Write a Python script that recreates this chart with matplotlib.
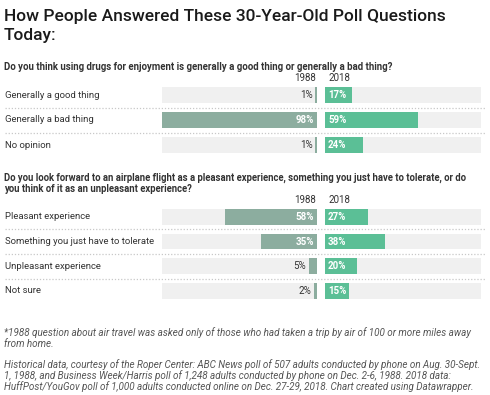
import matplotlib
matplotlib.use("Agg")
import matplotlib.pyplot as plt

plt.rcParams['font.family'] = ['Roboto', 'DejaVu Sans']

# chart data
q1_title = ["Do you think using drugs for enjoyment is generally a good thing or generally a bad thing?"]
q1_labels = ["Generally a good thing", "Generally a bad thing", "No opinion"]
q1_1988 = [1, 98, 1]
q1_2018 = [17, 59, 24]

q2_title = ["Do you look forward to an airplane flight as a pleasant experience, something you just have to tolerate, or do",
            "you think of it as an unpleasant experience?"]
q2_labels = ["Pleasant experience", "Something you just have to tolerate", "Unpleasant experience", "Not sure"]
q2_1988 = [58, 35, 5, 2]
q2_2018 = [27, 38, 20, 15]

years = ["1988", "2018"]

title = ["How People Answered These 30-Year-Old Poll Questions", "Today:"]
note1 = ["*1988 question about air travel was asked only of those who had taken a trip by air of 100 or more miles away",
         "from home."]
note2 = ["Historical data, courtesy of the Roper Center: ABC News poll of 507 adults conducted by phone on Aug. 30-Sept.",
         "1, 1988, and Business Week/Harris poll of 1,248 adults conducted by phone on Dec. 2-6, 1988. 2018 data:",
         "HuffPost/YouGov poll of 1,000 adults conducted online on Dec. 27-29, 2018. Chart created using Datawrapper."]

W, H = 490, 395
C88 = "#8cad9f"
C18 = "#5bbf96"
BG = "#f0f0f0"
TXT = "#333333"

fig = plt.figure(figsize=(W / 100, H / 100), dpi=100)


def fx(x):
    return x / W


def fy(y):
    return 1 - y / H


def add_ax(x0, y0, x1, y1):
    ax = fig.add_axes([fx(x0), fy(y1), fx(x1 - x0), (y1 - y0) / H])
    ax.axis("off")
    return ax


def put_lines(lines, x, y, dy, **kw):
    for k, line in enumerate(lines):
        fig.text(fx(x), fy(y + k * dy), line, ha="left", va="baseline", **kw)


def draw_block(labels, v88, v18, top, step, header_base):
    n = len(labels)
    bottom = top + n * step
    rows = list(range(n))
    lim88 = 97.9
    lim18 = 98.7

    # labels + dotted separators
    base = add_ax(5, top, 485, bottom)
    base.set_xlim(0, 1)
    base.set_ylim(n - 0.5, -0.5)
    for i in range(n - 1):
        base.axhline(i + 0.5, color="#c8c8c8", lw=0.9, ls=(0, (1, 1.5)))
    for i, lab in enumerate(labels):
        base.text(0, i, lab, ha="left", va="center", fontsize=6.8, color=TXT)

    ax88 = add_ax(162, top, 316.7, bottom)
    ax88.set_xlim(lim88, 0)
    ax88.set_ylim(n - 0.5, -0.5)
    ax88.barh(rows, [lim88] * n, height=0.64, color=BG)
    ax88.barh(rows, v88, height=0.64, color=C88)
    for i, v in enumerate(v88):
        if v >= 10:
            ax88.annotate(f"{v}%", (0, i), xytext=(-2, 0), textcoords="offset points",
                          ha="right", va="center", fontsize=7, fontweight="bold", color="white")
        else:
            ax88.annotate(f"{v}%", (v, i), xytext=(-2, 0), textcoords="offset points",
                          ha="right", va="center", fontsize=7, color=TXT)

    ax18 = add_ax(325, top, 481, bottom)
    ax18.set_xlim(0, lim18)
    ax18.set_ylim(n - 0.5, -0.5)
    ax18.barh(rows, [lim18] * n, height=0.64, color=BG)
    ax18.barh(rows, v18, height=0.64, color=C18)
    for i, v in enumerate(v18):
        ax18.annotate(f"{v}%", (0, i), xytext=(2.2, 0), textcoords="offset points",
                      ha="left", va="center", fontsize=7, fontweight="bold", color="white")

    fig.text(fx(316), fy(header_base), years[0], ha="right", va="baseline", fontsize=7, color=TXT)
    fig.text(fx(328), fy(header_base), years[1], ha="left", va="baseline", fontsize=7, color=TXT)


put_lines(title, 4, 20.7, 19.6, fontsize=12.5, fontweight="medium", color="#1a1a1a")

put_lines(q1_title, 4, 69.5, 11, fontsize=6.9, fontweight="bold", color=TXT)
draw_block(q1_labels, q1_1988, q1_2018, 82.5, 25, 81)

put_lines(q2_title, 4, 180.5, 11.2, fontsize=6.85, fontweight="bold", color=TXT)
draw_block(q2_labels, q2_1988, q2_2018, 204.5, 24.7, 203)

put_lines(note1, 4, 335.5, 11.3, fontsize=7.1, style="italic", color="#555555")
put_lines(note2, 4, 367.7, 11.3, fontsize=7.1, style="italic", color="#555555")

fig.savefig("out.png", dpi=100)
